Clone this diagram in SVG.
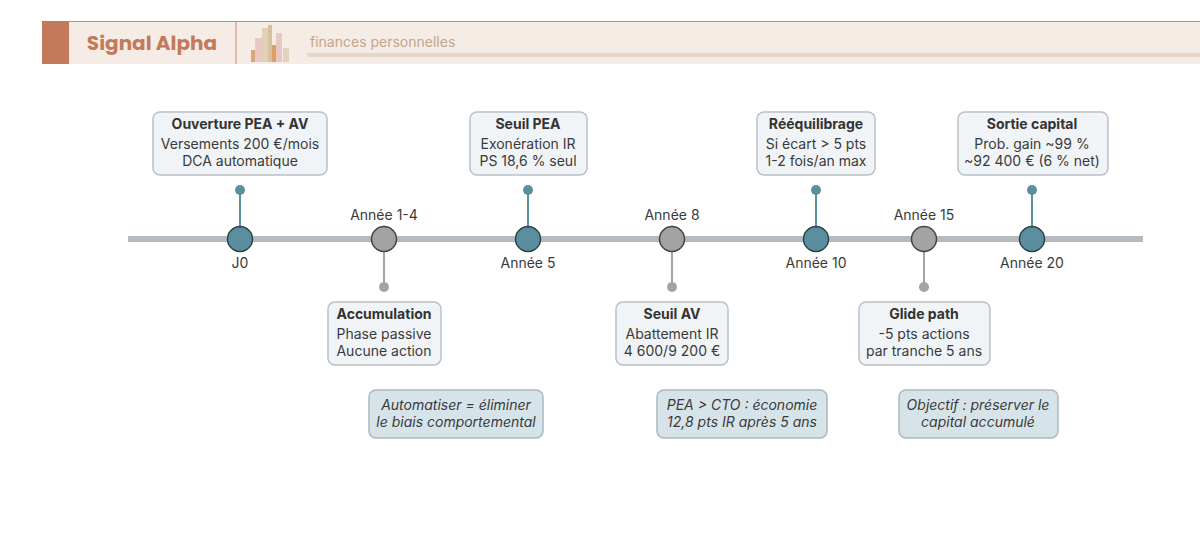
<svg xmlns="http://www.w3.org/2000/svg" width="1200" height="541" viewBox="0 0 1200 541">
<style>
text{font-family:Inter,"Noto Sans",sans-serif;fill:#333}
.b{fill:#f0f4f7;stroke:#b9c0c7;stroke-width:1.5}
.n{fill:#d6e4ea;stroke:#a9b8bf;stroke-width:1.5}
.t{font-size:14px;font-weight:bold;text-anchor:middle}
.s{font-size:14px;text-anchor:middle;fill:#3a3a3a}
.i{font-size:14px;font-style:italic;text-anchor:middle;fill:#3a3a3a}
.c1{fill:#5b8fa0;stroke:#2f3f48;stroke-width:1.5}
.c2{fill:#a3a3a3;stroke:#444;stroke-width:1.5}
.st1{stroke:#5b8fa0;stroke-width:2}
.st2{stroke:#a3a3a3;stroke-width:2}
</style>
<rect width="1200" height="541" fill="#fff"/>
<g id="header">
<rect x="42" y="21" width="1158" height="43" fill="#f6ece6"/>
<line x1="42" y1="21.5" x2="1200" y2="21.5" stroke="#c98a6e" stroke-width="1"/>
<rect x="42" y="21" width="27" height="43" fill="#c47a5a"/>
<line x1="236" y1="21" x2="236" y2="64" stroke="#c98a6e"/>
<text x="152" y="50" text-anchor="middle" style="font-family:Poppins,'Noto Sans',sans-serif;font-size:20px;font-weight:bold;fill:#c47a5a">Signal Alpha</text>
<g opacity="0.7">
<rect x="251" y="50" width="6" height="12" fill="#c98a4e"/>
<rect x="255" y="38" width="7" height="24" fill="#e5b8b0"/>
<rect x="262" y="28" width="6" height="34" fill="#d8c4a8"/>
<rect x="268" y="25" width="4" height="37" fill="#c9b080"/>
<rect x="272" y="45" width="5" height="17" fill="#d0802e"/>
<rect x="276" y="33" width="6" height="29" fill="#e5b8b0"/>
<rect x="283" y="48" width="6" height="14" fill="#dcc8b0"/>
</g>
<text x="310" y="47" style="font-size:14px;fill:#c4a48a">finances personnelles</text>
<rect x="307" y="53" width="893" height="4" fill="#e6d6c8"/>
</g>
<g id="connectors">
<line x1="128" y1="239" x2="1143" y2="239" stroke="#b5b9c0" stroke-width="6"/>
<line x1="240" y1="190" x2="240" y2="239" class="st1"/><circle cx="240" cy="190" r="5" fill="#5b8fa0"/>
<line x1="528" y1="190" x2="528" y2="239" class="st1"/><circle cx="528" cy="190" r="5" fill="#5b8fa0"/>
<line x1="816" y1="190" x2="816" y2="239" class="st1"/><circle cx="816" cy="190" r="5" fill="#5b8fa0"/>
<line x1="1032" y1="190" x2="1032" y2="239" class="st1"/><circle cx="1032" cy="190" r="5" fill="#5b8fa0"/>
<line x1="384" y1="239" x2="384" y2="287" class="st2"/><circle cx="384" cy="287" r="5" fill="#a3a3a3"/>
<line x1="672" y1="239" x2="672" y2="287" class="st2"/><circle cx="672" cy="287" r="5" fill="#a3a3a3"/>
<line x1="924" y1="239" x2="924" y2="287" class="st2"/><circle cx="924" cy="287" r="5" fill="#a3a3a3"/>
</g>
<g id="m0"><circle cx="240" cy="239" r="12.5" class="c1"/><text x="240" y="268" class="s">J0</text></g>
<g id="m1"><circle cx="384" cy="239" r="12.5" class="c2"/><text x="384" y="220" class="s">Année 1-4</text></g>
<g id="m2"><circle cx="528" cy="239" r="12.5" class="c1"/><text x="528" y="268" class="s">Année 5</text></g>
<g id="m3"><circle cx="672" cy="239" r="12.5" class="c2"/><text x="672" y="220" class="s">Année 8</text></g>
<g id="m4"><circle cx="816" cy="239" r="12.5" class="c1"/><text x="816" y="268" class="s">Année 10</text></g>
<g id="m5"><circle cx="924" cy="239" r="12.5" class="c2"/><text x="924" y="220" class="s">Année 15</text></g>
<g id="m6"><circle cx="1032" cy="239" r="12.5" class="c1"/><text x="1032" y="268" class="s">Année 20</text></g>
<g id="box0"><rect x="153" y="112" width="174" height="63" rx="7" class="b"/><text x="240" y="129" class="t">Ouverture PEA + AV</text><text x="240" y="149" class="s">Versements 200 €/mois</text><text x="240" y="166" class="s">DCA automatique</text></g>
<g id="box2"><rect x="470" y="112" width="117" height="63" rx="7" class="b"/><text x="528" y="129" class="t">Seuil PEA</text><text x="528" y="149" class="s">Exonération IR</text><text x="528" y="166" class="s">PS 18,6 % seul</text></g>
<g id="box4"><rect x="757" y="112" width="118" height="63" rx="7" class="b"/><text x="816" y="129" class="t">Rééquilibrage</text><text x="816" y="149" class="s">Si écart &gt; 5 pts</text><text x="816" y="166" class="s">1-2 fois/an max</text></g>
<g id="box6"><rect x="958" y="112" width="150" height="63" rx="7" class="b"/><text x="1032" y="129" class="t">Sortie capital</text><text x="1032" y="149" class="s">Prob. gain ~99 %</text><text x="1032" y="166" class="s">~92 400 € (6 % net)</text></g>
<g id="box1"><rect x="328" y="302" width="113" height="63" rx="7" class="b"/><text x="384" y="319" class="t">Accumulation</text><text x="384" y="339" class="s">Phase passive</text><text x="384" y="356" class="s">Aucune action</text></g>
<g id="box3"><rect x="616" y="302" width="112" height="63" rx="7" class="b"/><text x="672" y="319" class="t">Seuil AV</text><text x="672" y="339" class="s">Abattement IR</text><text x="672" y="356" class="s">4 600/9 200 €</text></g>
<g id="box5"><rect x="859" y="302" width="131" height="63" rx="7" class="b"/><text x="924" y="319" class="t">Glide path</text><text x="924" y="339" class="s">-5 pts actions</text><text x="924" y="356" class="s">par tranche 5 ans</text></g>
<g id="note1"><rect x="369" y="390" width="174" height="48" rx="7" class="n"/><text x="456" y="410" class="i">Automatiser = éliminer</text><text x="456" y="427" class="i">le biais comportemental</text></g>
<g id="note2"><rect x="657" y="390" width="170" height="48" rx="7" class="n"/><text x="742" y="410" class="i">PEA &gt; CTO : économie</text><text x="742" y="427" class="i">12,8 pts IR après 5 ans</text></g>
<g id="note3"><rect x="899" y="390" width="159" height="48" rx="7" class="n"/><text x="978" y="410" class="i">Objectif : préserver le</text><text x="978" y="427" class="i">capital accumulé</text></g>
</svg>
